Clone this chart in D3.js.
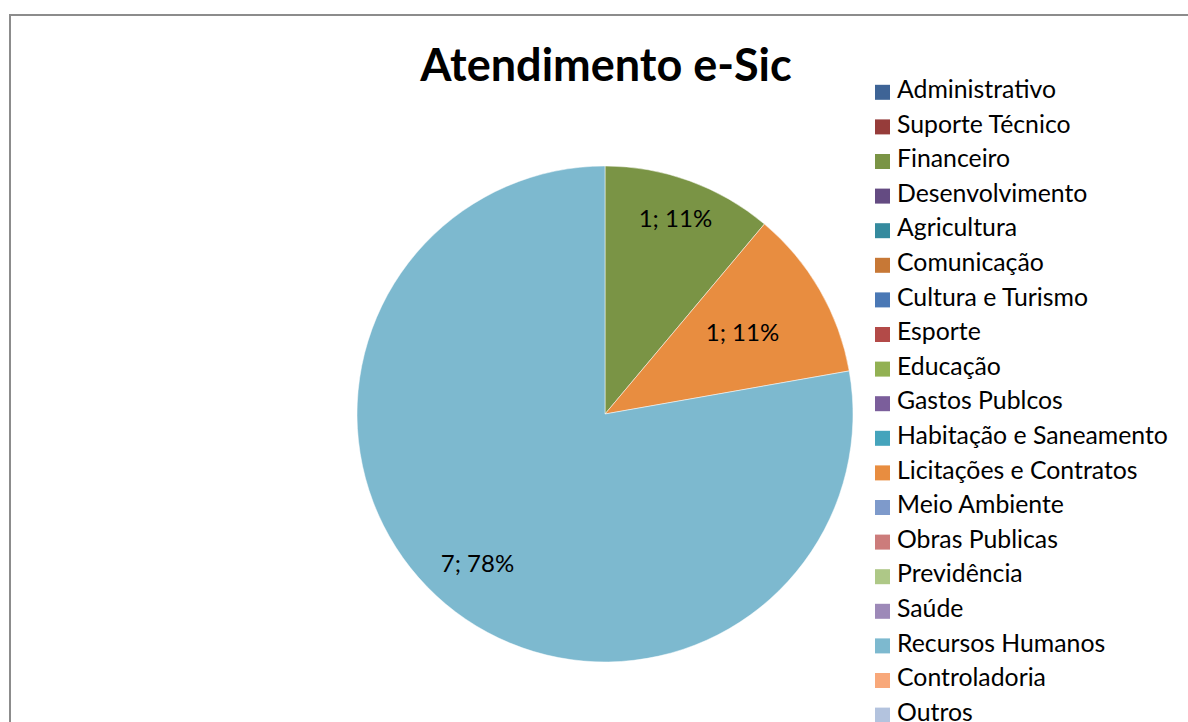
<!DOCTYPE html>
<html><head><meta charset="utf-8">
<script src="https://cdn.jsdelivr.net/npm/d3@7"></script>
<style>html,body{margin:0;padding:0;background:#fff;overflow:hidden}</style>
</head><body>
<script>
const title = "Atendimento e-Sic";
const categories = ["Administrativo","Suporte Técnico","Financeiro","Desenvolvimento","Agricultura","Comunicação","Cultura e Turismo","Esporte","Educação","Gastos Publcos","Habitação e Saneamento","Licitações e Contratos","Meio Ambiente","Obras Publicas","Previdência","Saúde","Recursos Humanos","Controladoria","Outros"];
const values = [0,0,1,0,0,0,0,0,0,0,0,1,0,0,0,0,7,0,0];
const colors = ["#3E6496","#963C3A","#7A9445","#644B82","#358A9E","#C77836","#4A78B5","#B34A48","#92B153","#7B5E9B","#45A4BC","#E88D40","#7E9ACB","#CC7C7B","#AEC887","#9D89B8","#7DB9CF","#F8A87A","#B3C3DE"];
// label placement (fraction of radius) for visible slices, in Excel "best fit" style
const labelRadius = {"Financeiro":0.83,"Licitações e Contratos":0.64,"Recursos Humanos":0.8};

const W = 1188, H = 722;
const font = "Lato, 'Open Sans', sans-serif";
const svg = d3.select("body").append("svg").attr("width", W).attr("height", H);

svg.append("rect").attr("x",10).attr("y",15).attr("width",W+20).attr("height",H+20)
  .attr("fill","#fff").attr("stroke","#8c8c8c").attr("stroke-width",2);

svg.append("text").attr("x",606).attr("y",69).attr("text-anchor","middle")
  .attr("dominant-baseline","middle")
  .attr("font-family",font).attr("font-weight","bold").attr("font-size",45)
  .text(title);

const data = categories.map((c,i)=>({cat:c,value:values[i],color:colors[i]}));
const total = d3.sum(values);
const cx = 605, cy = 414, r = 248;
const pie = d3.pie().sort(null).value(d=>d.value);
const arc = d3.arc().innerRadius(0).outerRadius(r);
const arcs = pie(data).filter(d=>d.data.value>0);
const g = svg.append("g").attr("transform",`translate(${cx},${cy})`);
g.selectAll("path").data(arcs).join("path").attr("d",arc).attr("fill",d=>d.data.color)
  .attr("stroke","#fff").attr("stroke-width",0.5);
g.selectAll("text").data(arcs).join("text")
  .attr("transform",d=>{
    const lr = r*(labelRadius[d.data.cat]||0.7);
    return `translate(${d3.arc().innerRadius(lr).outerRadius(lr).centroid(d)})`;
  })
  .attr("text-anchor","middle").attr("dominant-baseline","middle")
  .attr("font-family",font).attr("font-size",24).attr("fill","#000")
  .text(d=>`${d.data.value}; ${Math.round(d.data.value/total*100)}%`);

const legY = d3.scaleBand().domain(categories).range([74.5, 74.5+34.6*19]);
const leg = svg.append("g");
const rows = leg.selectAll("g").data(data).join("g")
  .attr("transform",d=>`translate(875,${legY(d.cat)+legY.bandwidth()/2})`);
rows.append("rect").attr("x",0).attr("y",-7).attr("width",15).attr("height",15).attr("fill",d=>d.color);
rows.append("text").attr("x",22).attr("y",0).attr("dominant-baseline","middle")
  .attr("font-family",font).attr("font-size",24.8).attr("fill","#000").text(d=>d.cat);
</script>
</body></html>
